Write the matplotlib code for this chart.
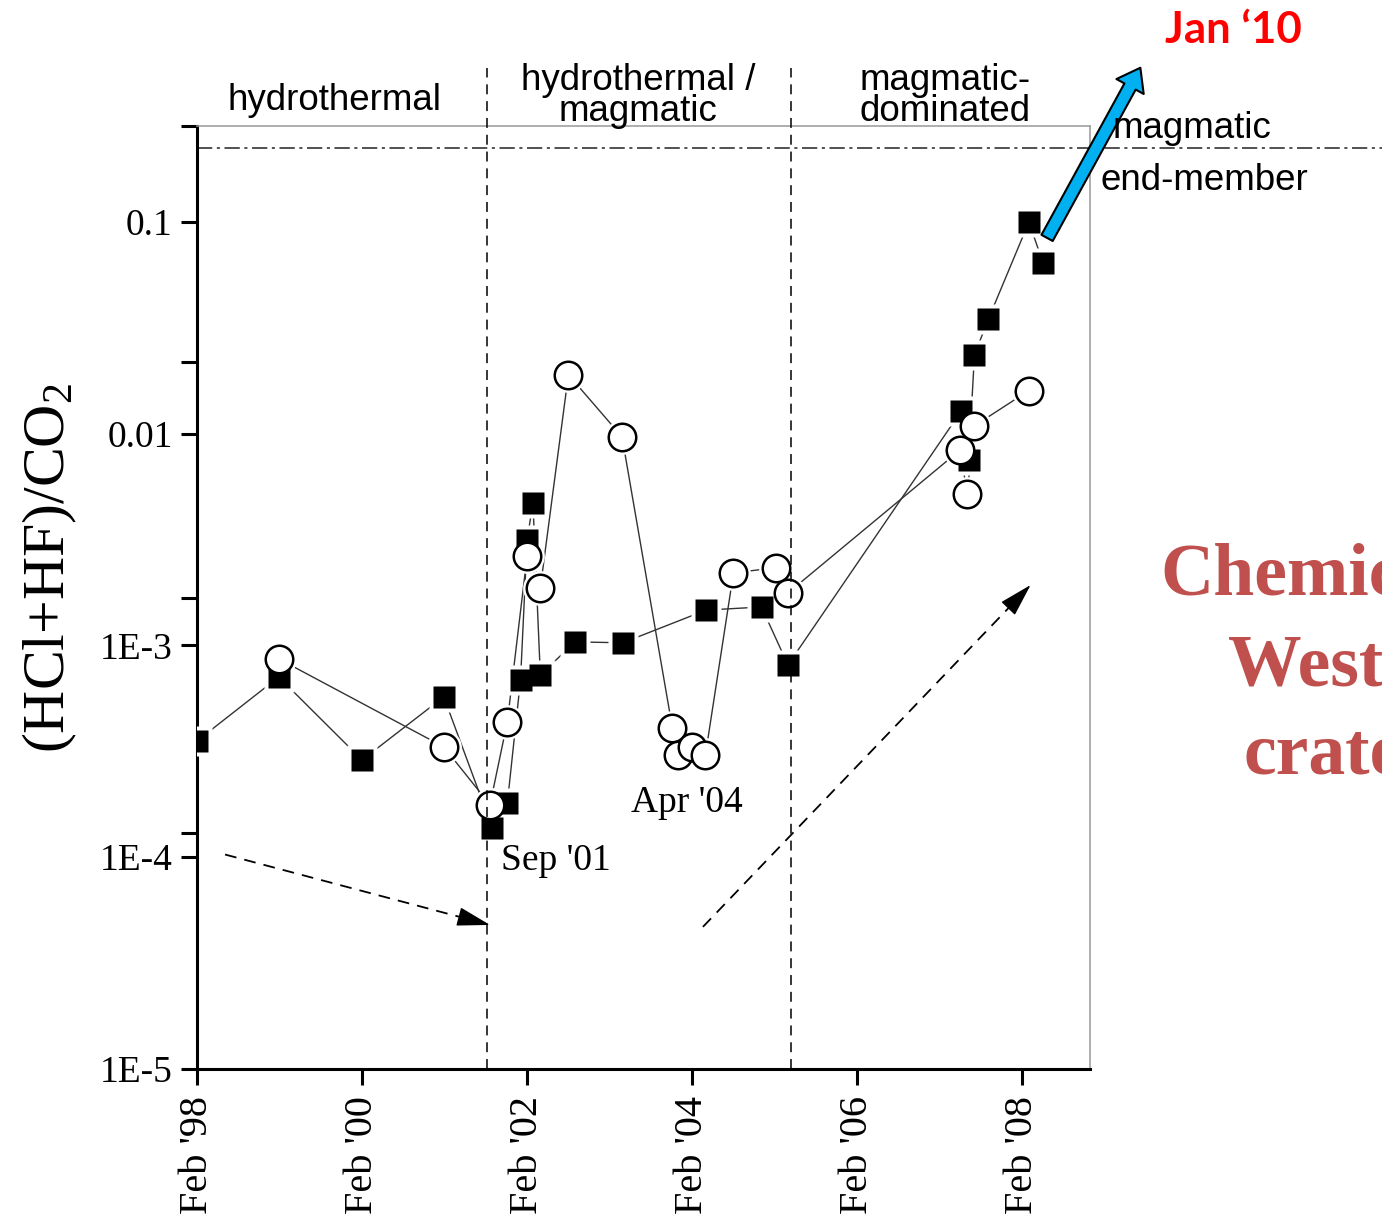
import matplotlib
matplotlib.use('Agg')
import matplotlib.pyplot as plt
import numpy as np
from matplotlib.ticker import FixedLocator, NullFormatter

W, H = 1382, 1220

# sampling time, years after Feb '98, and (HCl+HF)/CO2 ratio
sq_t = [0.0, 0.99, 2.0, 2.99, 3.58, 3.76, 3.92, 4.0, 4.07, 4.16, 4.58, 5.16,
        6.17, 6.84, 7.16, 9.26, 9.35, 9.42, 9.59, 10.08, 10.25]
sq_val = [3.54e-4, 7.1e-4, 2.88e-4, 5.72e-4, 1.37e-4, 1.80e-4, 6.88e-4, 3.15e-3,
          4.72e-3, 7.26e-4, 1.04e-3, 1.03e-3, 1.47e-3, 1.52e-3, 8.1e-4, 1.28e-2,
          7.53e-3, 2.36e-2, 3.49e-2, 0.100, 6.42e-2]

ci_t = [0.99, 2.99, 3.55, 3.76, 4.0, 4.16, 4.50, 5.15, 5.76, 5.83, 6.0, 6.16,
        6.50, 7.01, 7.16, 9.25, 9.33, 9.42, 10.08]
ci_val = [8.65e-4, 3.32e-4, 1.77e-4, 4.36e-4, 2.65e-3, 1.87e-3, 1.90e-2, 9.67e-3,
          4.08e-4, 3.04e-4, 3.32e-4, 3.04e-4, 2.20e-3, 2.33e-3, 1.77e-3, 8.4e-3,
          5.2e-3, 1.09e-2, 1.60e-2]

xticks = [0, 2, 4, 6, 8, 10]
xtick_labels = ["Feb '98", "Feb '00", "Feb '02", "Feb '04", "Feb '06", "Feb '08"]
yticks = [1e-5, 1e-4, 1e-3, 1e-2, 1e-1]
ytick_labels = ['1E-5', '1E-4', '1E-3', '0.01', '0.1']

phase_bounds = [3.515, 7.2]
end_member = 0.224
x_lim = (0, 10.82)
y_lim = (1e-5, 0.284)

# dashed trend arrows (start, end) and the Jan '10 arrow
trend_arrows = [((0.34, 1.03e-4), (3.55, 4.79e-5)),
                ((6.13, 4.69e-5), (10.10, 1.93e-3))]
jan10_arrow = ((10.30, 0.0841), (11.43, 0.535))

SERIF = 'Liberation Serif'
SANS = 'Liberation Sans'
plt.rcParams['mathtext.fontset'] = 'custom'
plt.rcParams['mathtext.rm'] = SERIF
plt.rcParams['mathtext.it'] = SERIF + ':italic'


def fpx(x, y):
    return x / W, 1 - y / H


fig = plt.figure(figsize=(W / 100, H / 100), dpi=100)
ax = fig.add_axes([197 / W, 1 - 1069 / H, (1090 - 197) / W, (1069 - 126) / H])
ax.set_yscale('log')
ax.set_xlim(*x_lim)
ax.set_ylim(*y_lim)

# lines, white gaps round the symbols, then symbols
ax.plot(sq_t, sq_val, color='#333333', lw=1.0, zorder=2)
ax.plot(ci_t, ci_val, color='#333333', lw=1.0, zorder=2)
ax.plot(ci_t, ci_val, 'o', ms=25, mfc='white', mec='none', zorder=3)
ax.plot(sq_t, sq_val, 's', ms=21, mfc='white', mec='none', zorder=3)
ax.plot(sq_t, sq_val, 's', ms=16.2, mfc='black', mec='none', zorder=4)
ax.plot(ci_t, ci_val, 'o', ms=19.8, mfc='white', mec='black', mew=1.8, zorder=5)

for xb in phase_bounds:
    ax.axvline(xb, ymin=0, ymax=1.062, color='black', lw=1.1,
               ls=(0, (6.5, 4.5)), clip_on=False, zorder=6)

ax.axhline(end_member, xmin=0, xmax=(W - 197) / (1090 - 197), color='#222222',
           lw=1.1, ls=(0, (10, 3, 2, 3)), clip_on=False, zorder=1)

# dashed shafts with solid filled heads
for (x0, y0), (x1, y1) in trend_arrows:
    ax.plot([x0, x1], [y0, y1], color='black', lw=1.3, ls=(0, (6.5, 4.5)), zorder=2)
    p0 = ax.transData.transform((x0, y0))
    p1 = ax.transData.transform((x1, y1))
    u = (p1 - p0) / np.hypot(*(p1 - p0))
    hx, hy = ax.transData.inverted().transform(p1 - u * 30)
    ax.annotate('', xy=(x1, y1), xytext=(hx, hy),
                arrowprops=dict(arrowstyle='-|>,head_length=1.05,head_width=0.3',
                                lw=1.0, color='black', mutation_scale=20,
                                shrinkA=0, shrinkB=0))

(bx0, by0), (bx1, by1) = jan10_arrow
ax.annotate('', xy=(bx1, by1), xytext=(bx0, by0), annotation_clip=False,
            arrowprops=dict(arrowstyle='simple,head_width=1.6,head_length=1.1,tail_width=0.66',
                            fc='#00b0f0', ec='black', lw=1.5, mutation_scale=14,
                            shrinkA=0, shrinkB=0))

# axes styling
for s in ['left', 'bottom']:
    ax.spines[s].set_linewidth(2.2)
    ax.spines[s].set_color('black')
for s in ['top', 'right']:
    ax.spines[s].set_linewidth(1.1)
    ax.spines[s].set_color('#999999')

ax.set_xticks(xticks)
ax.set_xticklabels(xtick_labels, rotation=90, fontsize=29, family=SERIF)
ax.xaxis.set_minor_locator(FixedLocator([]))
ax.set_yticks(yticks)
ax.set_yticklabels(ytick_labels, fontsize=27, family=SERIF)
extra = np.logspace(-5, np.log10(y_lim[1]), 5)[1:]
ax.yaxis.set_minor_locator(FixedLocator(extra))
ax.yaxis.set_minor_formatter(NullFormatter())
ax.tick_params(which='both', direction='out', length=11.5, width=2.2, pad=6)
ax.tick_params(axis='x', pad=8)
ax.tick_params(top=False, right=False)

fig.text(*fpx(50, 568), '(HCl+HF)/CO$_2$', rotation=90, fontsize=43, family=SERIF,
         ha='center', va='center')

# phase labels above the plot
fig.text(*fpx(335, 100), 'hydrothermal', fontsize=26.5, family=SANS, ha='center', va='center')
fig.text(*fpx(638, 96), 'hydrothermal /\nmagmatic', fontsize=26.5, family=SANS,
         ha='center', va='center', linespacing=0.85)
fig.text(*fpx(945, 96), 'magmatic-\ndominated', fontsize=26.5, family=SANS,
         ha='center', va='center', linespacing=0.85)
fig.text(*fpx(1113, 129), 'magmatic', fontsize=26.5, family=SANS, ha='left', va='center')
fig.text(*fpx(1101, 181), 'end-member', fontsize=26.5, family=SANS, ha='left', va='center')

fig.text(*fpx(501, 861), "Sep '01", fontsize=27, family=SERIF, ha='left', va='center')
fig.text(*fpx(631, 803), "Apr '04", fontsize=27, family=SERIF, ha='left', va='center')

fig.text(*fpx(1165, 30), "Jan \u201810", fontsize=31.5, family='Lato', weight='bold',
         color='#ff0000', ha='left', va='center')
# title block runs off the right edge, as in the source slide
for word, x, y in [('Chemical', 1160, 595), ('West', 1228, 685), ('crater', 1243, 773)]:
    fig.text(*fpx(x, y), word, fontsize=53, family=SERIF, weight='bold',
             color='#c0504d', ha='left', va='baseline')

fig.savefig('out.png', dpi=100)
